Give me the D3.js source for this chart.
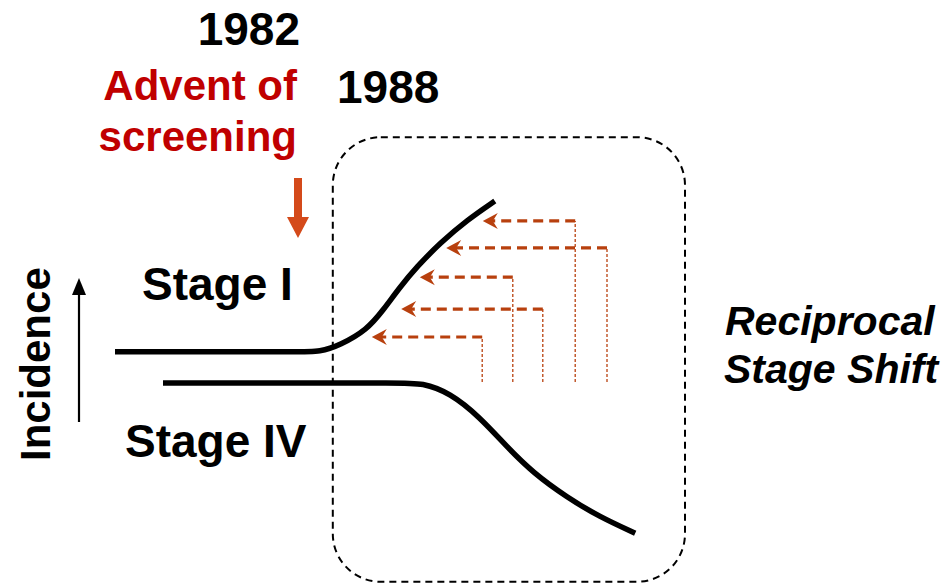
<!DOCTYPE html>
<html>
<head>
<meta charset="utf-8">
<script src="https://cdn.jsdelivr.net/npm/d3@7"></script>
<style>
  html, body { margin: 0; padding: 0; background: #fff; }
  svg { display: block; }
  text { font-family: "Liberation Sans", Arial, sans-serif; font-weight: bold; }
</style>
</head>
<body>
<svg id="chart" width="951" height="584"></svg>
<script>
// ---- data (abstract time units on x, incidence units on y) ----
const stageI_x = [2.5, 20, 33, 36.7, 40, 44.5, 47.2, 50, 52.8, 56.7, 61.2, 65.8];
const stageI_y = [50.7, 50.7, 50.7, 50.7, 52.2, 55.6, 60, 65.1, 69.6, 74.9, 80, 84.2];
const stageIV_x = [10.5, 32, 50, 53.7, 58.3, 63.3, 67.8, 72.2, 77.8, 83.3, 89.2];
const stageIV_y = [43.8, 43.8, 43.8, 43.8, 41.6, 36.2, 29.6, 23.8, 18.4, 14, 10.4];
// reciprocal shift arrows: level, origin (vertical dotted line), tip
const shiftLevel = [79.8, 73.8, 67.3, 60.2, 54];
const shiftFrom  = [79.2, 84.5, 68.8, 73.8, 63.7];
const shiftTo    = [63.8, 57.7, 53.3, 50.2, 45.3];
const shiftBase  = 44;
// highlighted period box
const boxX = [38.8, 97.5];
const boxY = [-0.4, 98.4];
// year markers
const screeningYear = "1982";
const boxYear = "1988";
const screeningX = 33;
const seriesLabels = ["Stage I", "Stage IV"];

const svg = d3.select("#chart");
const x = d3.scaleLinear().domain([0, 100]).range([100, 700]);
const y = d3.scaleLinear().domain([0, 100]).range([580, 130]);

const black = "#000";
const red = "#C00000";
const orange = "#D44A1A";
const brown = "#B8400E";

// box
svg.append("rect")
  .attr("x", x(boxX[0])).attr("y", y(boxY[1]))
  .attr("width", x(boxX[1]) - x(boxX[0]))
  .attr("height", y(boxY[0]) - y(boxY[1]))
  .attr("rx", 48).attr("ry", 48)
  .attr("fill", "none").attr("stroke", black)
  .attr("stroke-width", 2).attr("stroke-dasharray", "7,5");

// lines
const line = d3.line().x(d => x(d[0])).y(d => y(d[1])).curve(d3.curveBasis);
const sI = stageI_x.map((v, i) => [v, stageI_y[i]]);
const sIV = stageIV_x.map((v, i) => [v, stageIV_y[i]]);
[sI, sIV].forEach(s => {
  svg.append("path").attr("d", line(s))
    .attr("fill", "none").attr("stroke", black).attr("stroke-width", 5.5)
    .attr("stroke-linecap", "butt");
});

// shift arrows
shiftLevel.forEach((lv, i) => {
  const yy = y(lv), xf = x(shiftFrom[i]), xt = x(shiftTo[i]);
  svg.append("line")
    .attr("x1", xf).attr("y1", y(shiftBase)).attr("x2", xf).attr("y2", yy)
    .attr("stroke", brown).attr("stroke-width", 1.3).attr("stroke-dasharray", "3,2");
  svg.append("line")
    .attr("x1", xf).attr("y1", yy).attr("x2", xt + 9).attr("y2", yy)
    .attr("stroke", brown).attr("stroke-width", 3.2).attr("stroke-dasharray", "10,6");
  svg.append("path")
    .attr("d", `M${xt},${yy} L${xt + 15},${yy - 8} L${xt + 10},${yy} L${xt + 15},${yy + 8} Z`)
    .attr("fill", brown);
});

// screening down arrow
const ax = x(screeningX);
svg.append("path")
  .attr("d", `M${ax - 4},178 L${ax + 4},178 L${ax + 4},217 L${ax + 11},217 L${ax},238 L${ax - 11},217 L${ax - 4},217 Z`)
  .attr("fill", orange);

// incidence arrow
svg.append("line").attr("x1", 79).attr("y1", 422).attr("x2", 79).attr("y2", 292)
  .attr("stroke", black).attr("stroke-width", 2.2);
svg.append("path").attr("d", "M79,278 L86,295 L72,295 Z").attr("fill", black);

// texts
svg.append("text").attr("x", 300).attr("y", 45).attr("text-anchor", "end")
  .attr("font-size", 46).attr("fill", black).text(screeningYear);
svg.append("text").attr("x", 297).attr("y", 100).attr("text-anchor", "end")
  .attr("font-size", 42).attr("fill", red).text("Advent of");
svg.append("text").attr("x", 297).attr("y", 151).attr("text-anchor", "end")
  .attr("font-size", 42).attr("fill", red).text("screening");
svg.append("text").attr("x", 337).attr("y", 103)
  .attr("font-size", 46).attr("fill", black).text(boxYear);
svg.append("text").attr("x", 142).attr("y", 300)
  .attr("font-size", 46).attr("fill", black).text(seriesLabels[0]);
svg.append("text").attr("x", 125).attr("y", 457)
  .attr("font-size", 46).attr("fill", black).text(seriesLabels[1]);
svg.append("text").attr("transform", "translate(50,461) rotate(-90)")
  .attr("font-size", 42).attr("fill", black).text("Incidence");
svg.append("text").attr("x", 725).attr("y", 335).attr("font-style", "italic")
  .attr("font-size", 41).attr("fill", black).text("Reciprocal");
svg.append("text").attr("x", 724).attr("y", 383).attr("font-style", "italic")
  .attr("font-size", 41).attr("fill", black).text("Stage Shift");
</script>
</body>
</html>
